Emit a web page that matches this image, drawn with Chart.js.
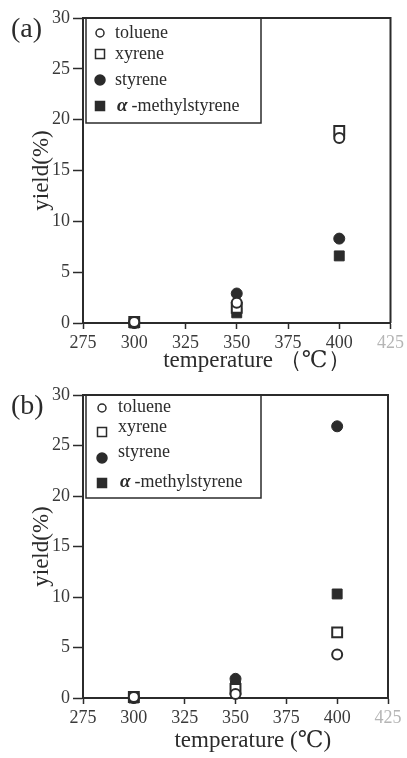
<!DOCTYPE html>
<html>
<head>
<meta charset="utf-8">
<script src="https://cdn.jsdelivr.net/npm/chart.js@4/dist/chart.umd.min.js"></script>
<style>
  html, body { margin: 0; padding: 0; background: #fff; }
  #wrap { position: relative; width: 407px; height: 758px; }
  canvas { position: absolute; left: 0; }
</style>
</head>
<body>
<div id="wrap">
  <canvas id="chartA" width="407" height="375" style="top:0"></canvas>
  <canvas id="chartB" width="407" height="383" style="top:375px"></canvas>
</div>
<script>
// temperatures (°C) and yields (%)
var temperatures = [300, 350, 400];
var xTicks = [275, 300, 325, 350, 375, 400, 425];
var yTicks = [0, 5, 10, 15, 20, 25, 30];
var seriesNames = ['toluene', 'xyrene', 'styrene', 'α-methylstyrene'];

// panel (a)
var tolueneA = [0.1, 2.0, 18.2];
var xyreneA = [0.1, 1.5, 18.9];
var styreneA = [0.0, 2.9, 8.3];
var methylstyreneA = [0.0, 1.0, 6.6];

// panel (b)
var tolueneB = [0.1, 0.4, 4.3];
var xyreneB = [0.1, 0.9, 6.5];
var styreneB = [0.0, 1.9, 26.9];
var methylstyreneB = [0.0, 1.2, 10.3];

var ink = '#2b2b2b';
var serif = "'Liberation Serif', 'DejaVu Serif', serif";

function points(values) {
    return temperatures.map(function(t, i) { return { x: t, y: values[i] }; });
}

// marker styles, same order as seriesNames
var markers = [
    { pointStyle: 'circle', pointRadius: 5, backgroundColor: '#fff', borderColor: ink, borderWidth: 2 },
    { pointStyle: 'rect', pointRadius: 7, backgroundColor: '#fff', borderColor: ink, borderWidth: 2 },
    { pointStyle: 'circle', pointRadius: 5.5, backgroundColor: ink, borderColor: ink, borderWidth: 1 },
    { pointStyle: 'rect', pointRadius: 7, backgroundColor: ink, borderColor: ink, borderWidth: 1 }
];

// frame, panel letter and the boxed legend in the top left corner
var framePlugin = {
    id: 'frame',
    afterDraw: function(chart, args, opts) {
        var ctx = chart.ctx;
        var a = chart.chartArea;
        ctx.save();
        ctx.strokeStyle = ink;
        ctx.lineWidth = 2;
        ctx.beginPath();
        ctx.moveTo(a.left, a.top);
        ctx.lineTo(a.right, a.top);
        ctx.lineTo(a.right, a.bottom);
        ctx.stroke();

        // panel letter
        ctx.fillStyle = ink;
        ctx.font = '28px ' + serif;
        ctx.textBaseline = 'middle';
        ctx.textAlign = 'left';
        ctx.fillText(opts.letter, 11, a.top + 12);

        // legend box
        var b = opts.box;
        ctx.lineWidth = 1.5;
        ctx.strokeRect(b.x, b.y, b.w, b.h);
        ctx.font = '18px ' + serif;
        seriesNames.forEach(function(name, i) {
            var m = markers[i];
            var my = b.y + opts.markerY[i];
            var mx = b.x + opts.markerX;
            ctx.fillStyle = m.backgroundColor;
            ctx.strokeStyle = ink;
            ctx.lineWidth = 1.5;
            ctx.beginPath();
            if (m.pointStyle === 'circle') {
                ctx.arc(mx, my, i === 0 ? 4 : 5, 0, Math.PI * 2);
            } else {
                ctx.rect(mx - 4.5, my - 4.5, 9, 9);
            }
            ctx.fill();
            ctx.stroke();
            ctx.fillStyle = ink;
            var ty = b.y + opts.textY[i];
            if (name.charAt(0) === 'α') {
                ctx.font = 'italic bold 19px ' + serif;
                ctx.fillText('α', b.x + opts.textX + 2, ty);
                ctx.font = '18px ' + serif;
                ctx.fillText(' -methylstyrene', b.x + opts.textX + 12, ty);
            } else {
                ctx.fillText(name, b.x + opts.textX, ty);
            }
        });
        ctx.restore();
    }
};

function makeChart(id, data, cfg) {
    var ctx = document.getElementById(id).getContext('2d');
    var datasets = data.map(function(values, i) {
        var d = Object.assign({ label: seriesNames[i], data: points(values) }, markers[i]);
        d.pointHoverRadius = d.pointRadius;
        return d;
    });
    return new Chart(ctx, {
        type: 'scatter',
        data: { datasets: datasets },
        plugins: [framePlugin],
        options: {
            responsive: false,
            animation: false,
            clip: false,
            layout: { padding: { top: cfg.top, right: cfg.right, left: 28, bottom: 0 } },
            plugins: {
                legend: { display: false },
                tooltip: { enabled: false },
                frame: cfg.frame
            },
            scales: {
                x: {
                    type: 'linear',
                    min: xTicks[0],
                    max: xTicks[xTicks.length - 1],
                    afterBuildTicks: function(scale) {
                        scale.ticks = xTicks.map(function(v) { return { value: v }; });
                    },
                    afterFit: function(scale) { scale.height = cfg.xHeight; },
                    border: { display: true, color: ink, width: 2 },
                    grid: { drawOnChartArea: false, drawTicks: true, tickLength: 6, tickColor: ink, tickWidth: 1.5 },
                    ticks: {
                        padding: 3,
                        maxRotation: 0,
                        autoSkip: false,
                        color: function(c) { return c.tick && c.tick.value === 425 ? '#b5b5b5' : '#3a3a3a'; },
                        font: { family: serif, size: 18 }
                    },
                    title: {
                        display: true,
                        text: cfg.xTitle,
                        color: ink,
                        font: { family: serif, size: 23 },
                        padding: { top: 0, bottom: cfg.xTitlePad }
                    }
                },
                y: {
                    type: 'linear',
                    min: yTicks[0],
                    max: yTicks[yTicks.length - 1],
                    afterBuildTicks: function(scale) {
                        scale.ticks = yTicks.map(function(v) { return { value: v }; });
                    },
                    afterFit: function(scale) { scale.width = 55; },
                    border: { display: true, color: ink, width: 2 },
                    grid: { drawOnChartArea: false, drawTicks: true, tickLength: 10, tickColor: ink, tickWidth: 1.5 },
                    ticks: {
                        padding: 3,
                        color: '#3a3a3a',
                        font: { family: serif, size: 18 }
                    },
                    title: {
                        display: true,
                        text: 'yield(%)',
                        color: ink,
                        font: { family: serif, size: 23 },
                        padding: { top: 0, bottom: 0 }
                    }
                }
            }
        }
    });
}

makeChart('chartA', [tolueneA, xyreneA, styreneA, methylstyreneA], {
    top: 18, right: 13, xHeight: 52, xTitlePad: 0,
    xTitle: '       temperature （℃）',
    frame: {
        letter: '(a)',
        box: { x: 86, y: 18, w: 175, h: 105 },
        markerX: 14, textX: 29,
        markerY: [15, 36, 62, 88],
        textY: [15, 36, 62, 88]
    }
});

makeChart('chartB', [tolueneB, xyreneB, styreneB, methylstyreneB], {
    top: 20, right: 19, xHeight: 60, xTitlePad: 3,
    xTitle: '      temperature (℃)',
    frame: {
        letter: '(b)',
        box: { x: 86, y: 20, w: 175, h: 103 },
        markerX: 16, textX: 32,
        markerY: [13, 37, 63, 88],
        textY: [12, 32, 57, 87]
    }
});
</script>
</body>
</html>
